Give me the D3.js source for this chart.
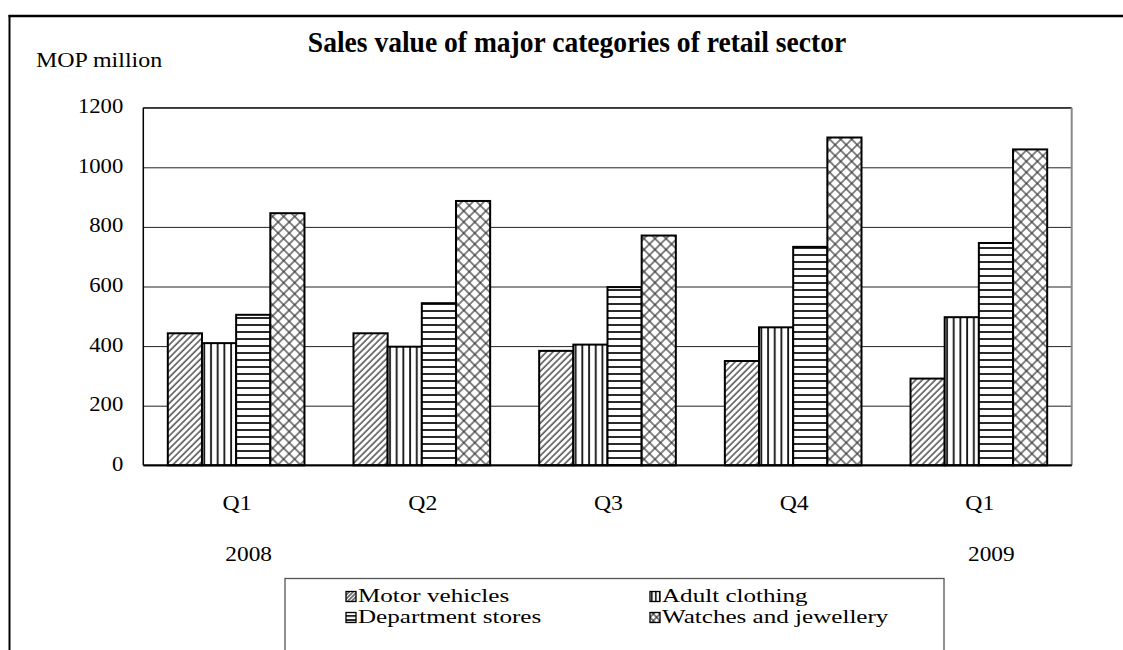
<!DOCTYPE html>
<html>
<head>
<meta charset="utf-8">
<script src="https://cdn.jsdelivr.net/npm/d3@7"></script>
<style>
  body { margin: 0; background: #fff; }
  text { font-family: "Liberation Serif", "Times New Roman", serif; fill: #000; }
</style>
</head>
<body>
<div id="chart"></div>
<script>
// data
var quarters = ["Q1", "Q2", "Q3", "Q4", "Q1"];
var years = ["2008", "", "", "", "2009"];
var seriesNames = ["Motor vehicles", "Adult clothing", "Department stores", "Watches and jewellery"];
var motorVehicles = [443, 443, 384, 350, 291];
var adultClothing = [410, 398, 405, 463, 497];
var departmentStores = [505, 544, 598, 733, 746];
var watchesJewellery = [846, 887, 771, 1100, 1060];
var yTicks = [0, 200, 400, 600, 800, 1000, 1200];

var width = 1123, height = 650;
var plotLeft = 143.3, plotRight = 1071.7, plotTop = 107.7, plotBottom = 465.3;
var serif = "Liberation Serif, Times New Roman, serif";

var svg = d3.select("#chart").append("svg")
    .attr("width", width)
    .attr("height", height);

// stretch text horizontally like the reference does
function widen(sel, sx) {
    sel.each(function () {
        var w = this.getComputedTextLength();
        d3.select(this).attr("textLength", w * sx).attr("lengthAdjust", "spacingAndGlyphs");
    });
}

// hatch patterns
var defs = svg.append("defs");
var ids = ["pMotor", "pAdult", "pDept", "pWatch"];

function makePatterns(suffix, k) {
    var p = defs.append("pattern").attr("id", "pMotor" + suffix)
        .attr("patternUnits", "userSpaceOnUse").attr("width", 4.6 * k).attr("height", 4.6 * k)
        .attr("patternTransform", "rotate(45)");
    p.append("rect").attr("width", 4.6 * k).attr("height", 4.6 * k).attr("fill", "#fff");
    p.append("line").attr("x1", 1).attr("x2", 1).attr("y1", 0).attr("y2", 4.6 * k)
        .attr("stroke", "#333").attr("stroke-width", 1.3);

    p = defs.append("pattern").attr("id", "pAdult" + suffix)
        .attr("patternUnits", "userSpaceOnUse").attr("width", 6.7 * k).attr("height", 10);
    p.append("rect").attr("width", 6.7 * k).attr("height", 10).attr("fill", "#fff");
    p.append("line").attr("x1", 3 * k).attr("x2", 3 * k).attr("y1", 0).attr("y2", 10)
        .attr("stroke", "#111").attr("stroke-width", 1.8);

    p = defs.append("pattern").attr("id", "pDept" + suffix)
        .attr("patternUnits", "userSpaceOnUse").attr("width", 10).attr("height", 7 * k);
    p.append("rect").attr("width", 10).attr("height", 7 * k).attr("fill", "#fff");
    p.append("line").attr("x1", 0).attr("x2", 10).attr("y1", 3 * k).attr("y2", 3 * k)
        .attr("stroke", "#111").attr("stroke-width", 1.8);

    p = defs.append("pattern").attr("id", "pWatch" + suffix)
        .attr("patternUnits", "userSpaceOnUse").attr("width", 7.8 * k).attr("height", 7.8 * k)
        .attr("patternTransform", "rotate(45)");
    p.append("rect").attr("width", 7.8 * k).attr("height", 7.8 * k).attr("fill", "#fff");
    p.append("line").attr("x1", 1).attr("x2", 1).attr("y1", 0).attr("y2", 7.8 * k)
        .attr("stroke", "#333").attr("stroke-width", 1.2);
    p.append("line").attr("x1", 0).attr("x2", 7.8 * k).attr("y1", 1).attr("y2", 1)
        .attr("stroke", "#333").attr("stroke-width", 1.2);
}
makePatterns("", 1);
makePatterns("Small", 0.6);

// outer frame
svg.append("line").attr("x1", 9.5).attr("x2", 9.5).attr("y1", 15).attr("y2", height)
    .attr("stroke", "#000").attr("stroke-width", 2);
svg.append("line").attr("x1", 8.5).attr("x2", width).attr("y1", 16).attr("y2", 16)
    .attr("stroke", "#000").attr("stroke-width", 2.5);

// scales
var x0 = d3.scaleBand()
    .domain(d3.range(quarters.length))
    .range([plotLeft, plotRight])
    .paddingInner(0.264)
    .paddingOuter(0.132);

var x1 = d3.scaleBand()
    .domain(d3.range(seriesNames.length))
    .range([0, x0.bandwidth()]);

var y = d3.scaleLinear()
    .domain([0, 1200])
    .range([plotBottom, plotTop]);

// gridlines + y labels
var yAxis = svg.append("g")
    .attr("transform", "translate(" + plotLeft + ",0)")
    .call(d3.axisLeft(y).tickValues(yTicks).tickFormat(d3.format("d"))
        .tickSize(-(plotRight - plotLeft)).tickPadding(20));
yAxis.select(".domain").remove();
yAxis.selectAll(".tick line").attr("stroke", "#222").attr("stroke-width", 1);
yAxis.selectAll(".tick text")
    .attr("dy", 5)
    .attr("fill", "#000")
    .style("font-size", "21px")
    .style("font-family", serif)
    .call(widen, 1.08);

// bars
var allSeries = [motorVehicles, adultClothing, departmentStores, watchesJewellery];
var groups = svg.append("g").selectAll("g")
    .data(quarters.map(function (q, i) { return i; }))
    .enter().append("g")
    .attr("transform", function (i) { return "translate(" + x0(i) + ",0)"; });

groups.selectAll("rect")
    .data(function (i) { return allSeries.map(function (s, j) { return { s: j, v: s[i] }; }); })
    .enter().append("rect")
    .attr("x", function (d) { return x1(d.s); })
    .attr("y", function (d) { return y(d.v); })
    .attr("width", x1.bandwidth())
    .attr("height", function (d) { return y(0) - y(d.v); })
    .attr("fill", function (d) { return "url(#" + ids[d.s] + ")"; })
    .attr("stroke", "#000")
    .attr("stroke-width", 2);

// plot frame
svg.append("line").attr("x1", plotLeft).attr("x2", plotRight).attr("y1", plotTop).attr("y2", plotTop)
    .attr("stroke", "#333").attr("stroke-width", 1.5);
svg.append("line").attr("x1", plotRight).attr("x2", plotRight).attr("y1", plotTop).attr("y2", plotBottom)
    .attr("stroke", "#888").attr("stroke-width", 2);
svg.append("line").attr("x1", plotLeft).attr("x2", plotLeft).attr("y1", plotTop).attr("y2", plotBottom)
    .attr("stroke", "#000").attr("stroke-width", 1.5);
svg.append("line").attr("x1", plotLeft).attr("x2", plotRight).attr("y1", plotBottom).attr("y2", plotBottom)
    .attr("stroke", "#000").attr("stroke-width", 2);

// x labels
svg.append("g").selectAll("text")
    .data(quarters)
    .enter().append("text")
    .attr("x", function (d, i) { return x0(i) + x0.bandwidth() / 2 + 1; })
    .attr("y", 509.5)
    .attr("text-anchor", "middle")
    .style("font-family", serif)
    .style("font-size", "21px")
    .text(function (d) { return d; })
    .call(widen, 1.13);

svg.append("g").selectAll("text")
    .data(years)
    .enter().append("text")
    .attr("x", function (d, i) { return x0(i) + x0.bandwidth() / 2 + 12.5; })
    .attr("y", 561)
    .attr("text-anchor", "middle")
    .style("font-family", serif)
    .style("font-size", "21px")
    .text(function (d) { return d; })
    .filter(function (d) { return d !== ""; })
    .call(widen, 1.11);

// unit label + title
svg.append("text")
    .attr("x", 36).attr("y", 66.5)
    .style("font-family", serif)
    .style("font-size", "21px")
    .text("MOP million")
    .call(widen, 1.14);

svg.append("text")
    .attr("x", 577).attr("y", 52)
    .attr("text-anchor", "middle")
    .style("font-family", serif)
    .style("font-size", "29px")
    .style("font-weight", "bold")
    .text("Sales value of major categories of retail sector")
    .call(widen, 0.95);

// legend
svg.append("rect")
    .attr("x", 285).attr("y", 578.5)
    .attr("width", 659).attr("height", 90)
    .attr("fill", "none")
    .attr("stroke", "#555").attr("stroke-width", 1.3);

var legendX = [346, 650];
var legendY = [601.5, 622.5];
var legend = svg.append("g").selectAll("g")
    .data(seriesNames)
    .enter().append("g")
    .attr("transform", function (d, i) {
        return "translate(" + legendX[i % 2] + "," + legendY[Math.floor(i / 2)] + ")";
    });

legend.append("rect")
    .attr("x", 0).attr("y", -10)
    .attr("width", 10).attr("height", 10)
    .attr("fill", function (d, i) { return "url(#" + ids[i] + "Small)"; })
    .attr("stroke", "#000").attr("stroke-width", 1.3);

legend.append("text")
    .attr("x", 12)
    .attr("y", 0)
    .style("font-family", serif)
    .style("font-size", "19px")
    .text(function (d) { return d; })
    .call(widen, 1.32);
</script>
</body>
</html>
